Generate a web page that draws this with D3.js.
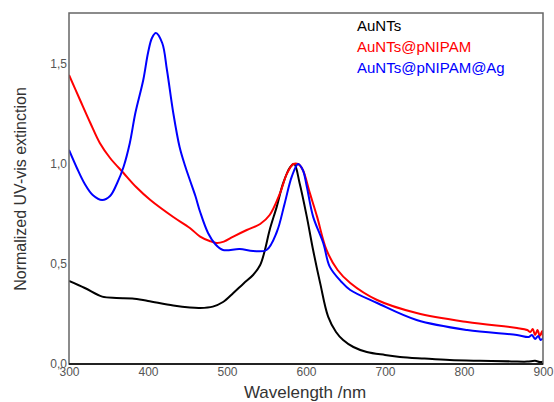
<!DOCTYPE html>
<meta charset="utf-8">
<style>
  body { margin: 0; background: #fff; }
  svg { font-family: Arial, "Liberation Sans", sans-serif; }
  .tick text { fill: #555; font-size: 12px; }
</style>
<body>
<div id="chart"></div>
<script src="https://d3js.org/d3.v7.min.js"></script>
<script>
// series names and colours
var seriesNames = ["AuNTs", "AuNTs@pNIPAM", "AuNTs@pNIPAM@Ag"];
var seriesColors = ["#000000", "#ff0000", "#0000ff"];

// tick labels
var xTicks = [300, 400, 500, 600, 700, 800, 900];
var yTicks = [0, 0.5, 1.0, 1.5];

// wavelength (nm) / extinction
var auNTs = [
  [300, 0.415], [320, 0.38], [342, 0.337], [360, 0.33], [380, 0.328], [400, 0.315],
  [432, 0.292], [453, 0.282], [466, 0.28], [482, 0.287], [495, 0.31], [508, 0.355],
  [521, 0.403], [533, 0.445], [542, 0.495], [548, 0.57], [554, 0.67], [563, 0.787],
  [571, 0.903], [580, 0.985], [585, 1.0], [592, 0.903], [601, 0.737], [609, 0.57],
  [618, 0.403], [628, 0.237], [638, 0.16], [647, 0.12], [660, 0.085], [677, 0.06],
  [700, 0.045], [719, 0.035], [750, 0.027], [782, 0.02], [820, 0.016], [860, 0.013],
  [880, 0.012], [890, 0.016], [896, 0.01], [900, 0.012]
];
var auNTsPnipam = [
  [300, 1.445], [314, 1.32], [327, 1.205], [339, 1.105], [352, 1.03], [369, 0.955],
  [385, 0.885], [403, 0.82], [432, 0.735], [453, 0.68], [466, 0.637], [478, 0.615],
  [487, 0.605], [496, 0.612], [508, 0.637], [525, 0.67], [542, 0.70], [554, 0.745],
  [567, 0.853], [576, 0.953], [584, 1.0], [590, 1.0], [596, 0.97], [605, 0.853],
  [614, 0.737], [626, 0.57], [640, 0.47], [656, 0.405], [690, 0.32], [740, 0.255],
  [804, 0.21], [867, 0.18], [880, 0.17], [884, 0.16], [887, 0.175], [890, 0.145],
  [893, 0.17], [896, 0.14], [899, 0.165], [900, 0.12]
];
var auNTsPnipamAg = [
  [300, 1.07], [310, 0.98], [320, 0.9], [330, 0.845], [342, 0.82], [352, 0.84],
  [361, 0.905], [369, 0.985], [377, 1.105], [384, 1.255], [394, 1.42], [400, 1.555],
  [405, 1.63], [410, 1.655], [418, 1.605], [424, 1.47], [432, 1.255], [440, 1.085],
  [447, 0.99], [453, 0.92], [460, 0.84], [466, 0.76], [476, 0.655], [485, 0.6],
  [495, 0.57], [516, 0.575], [533, 0.565], [550, 0.57], [563, 0.66], [573, 0.803],
  [582, 0.937], [590, 1.0], [596, 0.97], [601, 0.887], [609, 0.737], [622, 0.603],
  [630, 0.487], [645, 0.41], [656, 0.37], [690, 0.305], [740, 0.22], [804, 0.17],
  [867, 0.145], [882, 0.135], [886, 0.145], [890, 0.125], [894, 0.14], [897, 0.12],
  [900, 0.13]
];
var allSeries = [auNTs, auNTsPnipam, auNTsPnipamAg];

var W = 554, H = 402;
var margin = {top: 13, right: 11, bottom: 38, left: 69};
var width = W - margin.left - margin.right,
    height = H - margin.top - margin.bottom;

var svg = d3.select("#chart").append("svg")
    .attr("width", W)
    .attr("height", H);

var g = svg.append("g")
    .attr("transform", "translate(" + margin.left + "," + margin.top + ")");

var x = d3.scaleLinear().domain([300, 900]).range([0, width]);
var y = d3.scaleLinear().domain([0, 1.755]).range([height, 0]);

var fmt = function(d) { return d3.format(".1f")(d).replace(".", ","); };

// axes (labels only, no tick marks)
var xAxis = g.append("g")
    .attr("transform", "translate(0," + height + ")")
    .call(d3.axisBottom(x).tickValues(xTicks).tickSize(0).tickPadding(3));
xAxis.select(".domain").remove();

var yAxis = g.append("g")
    .call(d3.axisLeft(y).tickValues(yTicks).tickSize(0).tickPadding(2).tickFormat(fmt));
yAxis.select(".domain").remove();

// curves
var line = d3.line()
    .x(function(d) { return x(d[0]); })
    .y(function(d) { return y(d[1]); })
    .curve(d3.curveCatmullRom.alpha(0.5));

g.append("defs").append("clipPath").attr("id", "clip")
  .append("rect").attr("width", width).attr("height", height);

g.selectAll(".curve")
    .data(allSeries)
  .enter().append("path")
    .attr("class", "curve")
    .attr("clip-path", "url(#clip)")
    .attr("fill", "none")
    .attr("stroke", function(d, i) { return seriesColors[i]; })
    .attr("stroke-width", 2)
    .attr("stroke-linejoin", "round")
    .attr("d", line);

// frame
g.append("rect")
    .attr("width", width)
    .attr("height", height)
    .attr("fill", "none")
    .attr("stroke", "#666")
    .attr("stroke-width", 1.5);
g.append("line")
    .attr("x1", 0).attr("x2", width)
    .attr("y1", height).attr("y2", height)
    .attr("stroke", "#000")
    .attr("stroke-width", 1.5);

// legend
g.selectAll(".legend")
    .data(seriesNames)
  .enter().append("text")
    .attr("class", "legend")
    .attr("x", 288)
    .attr("y", function(d, i) { return 18 + i * 21; })
    .attr("fill", function(d, i) { return seriesColors[i]; })
    .style("font-size", "15px")
    .text(function(d) { return d; });

// axis titles
svg.append("text")
    .attr("x", 305)
    .attr("y", 398)
    .attr("text-anchor", "middle")
    .attr("fill", "#333")
    .style("font-size", "17px")
    .text("Wavelength /nm");

svg.append("text")
    .attr("transform", "translate(26," + 189 + ") rotate(-90)")
    .attr("text-anchor", "middle")
    .attr("fill", "#333")
    .style("font-size", "16px")
    .text("Normalized UV-vis extinction");
</script>
</body>
